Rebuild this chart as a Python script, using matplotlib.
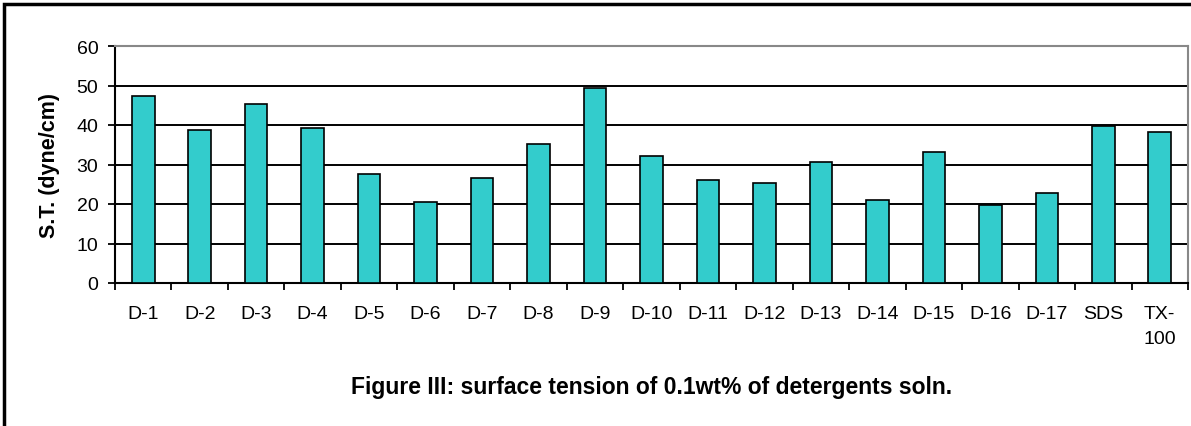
import matplotlib
matplotlib.use('Agg')
import matplotlib.pyplot as plt
import numpy as np

plt.rcParams['font.family'] = ['Liberation Sans', 'DejaVu Sans']

# --- дані ---
labels = ['D-1', 'D-2', 'D-3', 'D-4', 'D-5', 'D-6', 'D-7', 'D-8', 'D-9', 'D-10',
          'D-11', 'D-12', 'D-13', 'D-14', 'D-15', 'D-16', 'D-17', 'SDS', 'TX-\n100']
surface_tension = [47.4, 38.8, 45.3, 39.3, 27.7, 20.6, 26.7, 35.3, 49.4, 32.2,
                   26.2, 25.2, 30.7, 21.1, 33.2, 19.7, 22.7, 39.7, 38.3]
yticks = [0, 10, 20, 30, 40, 50, 60]

fig = plt.figure(figsize=(11.91, 4.27), dpi=100)
ax = fig.add_axes([115/1191, 1 - 284/427, (1188 - 115)/1191, (284 - 47)/427])

x = np.arange(len(labels))
ax.bar(x, surface_tension, width=0.4, color='#33CCCC', edgecolor='black', linewidth=1.2, zorder=3)

ax.set_xlim(-0.5, len(labels) - 0.5)
ax.set_ylim(0, 60)
ax.set_yticks(yticks)
ax.yaxis.grid(True, color='black', linewidth=1.4, zorder=0)
ax.set_axisbelow(True)

# мітки категорій по центру, риски на межах (як у Excel)
ax.set_xticks(x)
ax.set_xticklabels(labels, fontsize=14, linespacing=1.6, va='top')
ax.tick_params(axis='x', length=0, pad=16)
ax.set_xticks(np.arange(-0.5, len(labels)), minor=True)
ax.tick_params(axis='x', which='minor', length=5, width=1.3, direction='out')
ax.tick_params(axis='y', length=5, width=1.3, labelsize=14, pad=7)

for s in ['left', 'bottom']:
    ax.spines[s].set_color('black'); ax.spines[s].set_linewidth(1.5)
for s in ['top', 'right']:
    ax.spines[s].set_color('#888888'); ax.spines[s].set_linewidth(1.5)

ax.set_ylabel('S.T. (dyne/cm)', fontsize=15.5, fontweight='bold', va='center')
ax.yaxis.set_label_coords(-0.0606, 0.5)

fig.text((115 + 1188)/2/1191, 1 - 388/427, 'Figure III: surface tension of 0.1wt% of detergents soln.',
         ha='center', va='center', fontsize=16.5, fontweight='bold')

# рамка навколо всього рисунка
fig.patches.append(plt.Rectangle((4/1191, -0.1), 1.2, 1.1 - 5/427, transform=fig.transFigure,
                                 fill=False, edgecolor='black', linewidth=2.5))

fig.savefig('out.png', dpi=100)
